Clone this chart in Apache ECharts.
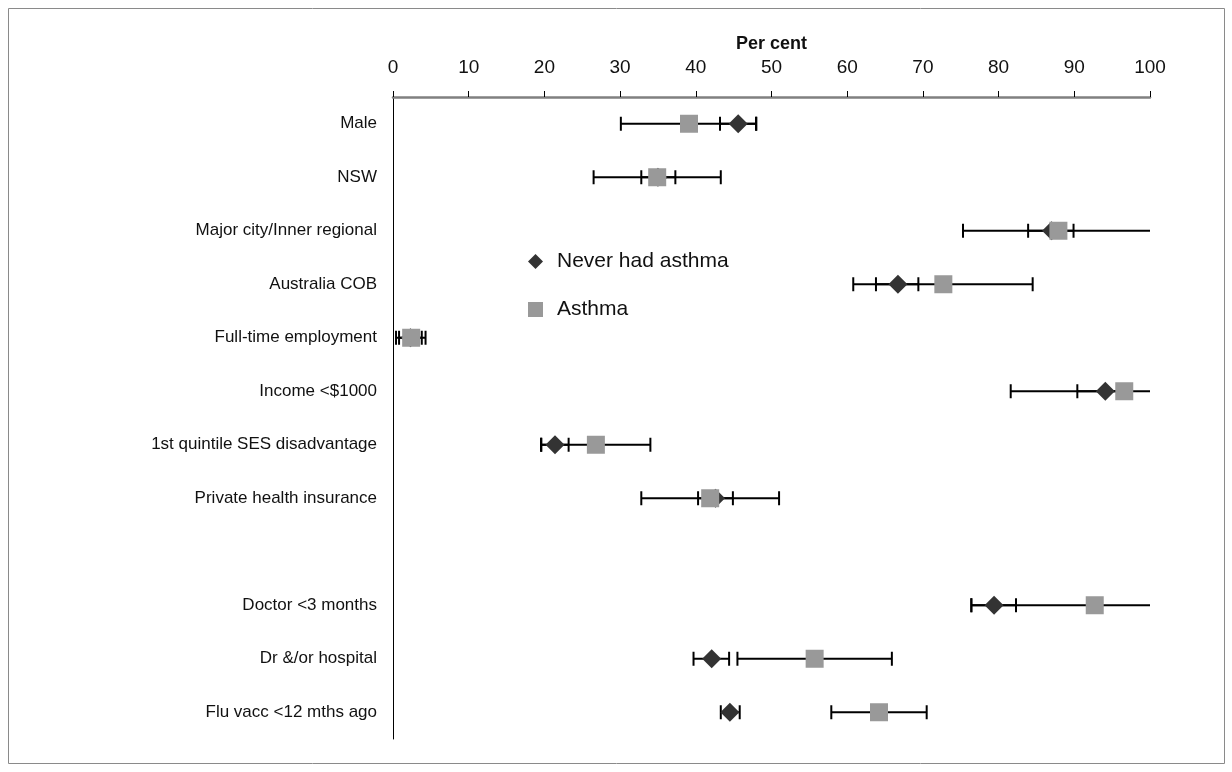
<!DOCTYPE html>
<html>
<head>
<meta charset="utf-8">
<script src="https://cdn.jsdelivr.net/npm/echarts@6/dist/echarts.min.js"></script>
<style>
html,body{margin:0;padding:0;background:#fff;}
#chart{width:1232px;height:772px;}
</style>
</head>
<body>
<div id="chart"></div>
<script>
// ---- data ----
const categories = ['Male','NSW','Major city/Inner regional','Australia COB','Full-time employment','Income <$1000','1st quintile SES disadvantage','Private health insurance','','Doctor <3 months','Dr &/or hospital','Flu vacc <12 mths ago'];
const neverVal  = [45.6, 35.0, 87.0, 66.7, 2.3, 94.1, 21.4, 42.6, null, 79.4, 42.1, 44.5];
const neverLo   = [43.2, 32.8, 83.9, 63.8, 0.8, 90.4, 19.6, 40.3, null, 76.4, 39.7, 43.3];
const neverHi   = [47.95, 37.3, 89.9, 69.4, 3.8, 97.6, 23.2, 44.9, null, 82.3, 44.4, 45.8];
const asthmaVal = [39.1, 34.9, 87.9, 72.7, 2.4, 96.6, 26.8, 41.9, null, 92.7, 55.7, 64.2];
const asthmaLo  = [30.1, 26.5, 75.3, 60.8, 0.4, 81.6, 19.55, 32.8, null, 76.4, 45.5, 57.9];
const asthmaHi  = [48.0, 43.3, 100.5, 84.5, 4.3, 111.6, 34.0, 51.0, null, 109.0, 65.9, 70.5];
const seriesNames = ['Never had asthma', 'Asthma'];

const FONT = '"Liberation Sans", Arial, sans-serif';

function errData(lo, hi) {
  const out = [];
  for (let i = 0; i < categories.length; i++) {
    if (lo[i] == null) continue;
    out.push([lo[i], hi[i], i]);
  }
  return out;
}
function ptData(v) {
  const out = [];
  for (let i = 0; i < categories.length; i++) {
    if (v[i] == null) continue;
    out.push([v[i], i]);
  }
  return out;
}

function renderErr(params, api) {
  const cs = params.coordSys;
  const xmin = cs.x, xmax = cs.x + cs.width;
  const p1 = api.coord([api.value(0), api.value(2)]);
  const p2 = api.coord([api.value(1), api.value(2)]);
  const y = p1[1];
  const x1 = Math.max(xmin, p1[0]);
  const x2 = Math.min(xmax, p2[0]);
  const h = 7;
  const st = {stroke: '#000', lineWidth: 2};
  const children = [{type: 'line', shape: {x1: x1, y1: y, x2: x2, y2: y}, style: st}];
  if (p1[0] >= xmin - 0.5) children.push({type: 'line', shape: {x1: p1[0], y1: y - h, x2: p1[0], y2: y + h}, style: st});
  if (p2[0] <= xmax + 0.5) children.push({type: 'line', shape: {x1: p2[0], y1: y - h, x2: p2[0], y2: y + h}, style: st});
  return {type: 'group', children: children};
}

const chart = echarts.init(document.getElementById('chart'), null, {renderer: 'canvas'});
chart.setOption({
  animation: false,
  backgroundColor: '#fff',
  textStyle: {fontFamily: FONT},
  graphic: [{
    type: 'rect', shape: {x: 8.5, y: 8.5, width: 1216, height: 755},
    style: {fill: 'none', stroke: '#8a8a8a', lineWidth: 1}, silent: true, z: -1
  }],
  grid: {left: 393, right: 82, top: 97, bottom: 33, containLabel: false},
  legend: {
    data: [
      {name: seriesNames[0], icon: 'diamond'},
      {name: seriesNames[1], icon: 'rect'}
    ],
    orient: 'vertical',
    left: 523, top: 246,
    itemWidth: 15, itemHeight: 15, itemGap: 27,
    textStyle: {fontSize: 21, color: '#111', fontFamily: FONT, padding: [0, 0, 0, 9]}
  },
  xAxis: {
    type: 'value', position: 'top', min: 0, max: 100, interval: 10,
    name: 'Per cent', nameLocation: 'middle', nameGap: 42,
    nameTextStyle: {fontSize: 18, fontWeight: 'bold', color: '#111', fontFamily: FONT},
    axisLine: {show: true, lineStyle: {color: '#808080', width: 2.5}},
    axisTick: {show: true, length: 6, lineStyle: {color: '#000', width: 1}},
    axisLabel: {fontSize: 19, color: '#111', margin: 20, fontFamily: FONT},
    splitLine: {show: false}
  },
  yAxis: {
    type: 'category', data: categories, inverse: true,
    axisLine: {show: true, lineStyle: {color: '#000', width: 1}},
    axisTick: {show: false},
    axisLabel: {fontSize: 17, color: '#111', margin: 16, fontFamily: FONT},
    splitLine: {show: false}
  },
  series: [
    {name: 'neverErr', type: 'custom', renderItem: renderErr, data: errData(neverLo, neverHi), encode: {x: [0, 1], y: 2}, z: 2, silent: true},
    {name: 'asthmaErr', type: 'custom', renderItem: renderErr, data: errData(asthmaLo, asthmaHi), encode: {x: [0, 1], y: 2}, z: 2, silent: true},
    {name: seriesNames[0], type: 'scatter', symbol: 'diamond', symbolSize: 19, data: ptData(neverVal),
     itemStyle: {color: '#333333', opacity: 1}, z: 3},
    {name: seriesNames[1], type: 'scatter', symbol: 'rect', symbolSize: 18, data: ptData(asthmaVal),
     itemStyle: {color: '#999999', opacity: 1, borderRadius: 1}, z: 4}
  ]
});
</script>
</body>
</html>
